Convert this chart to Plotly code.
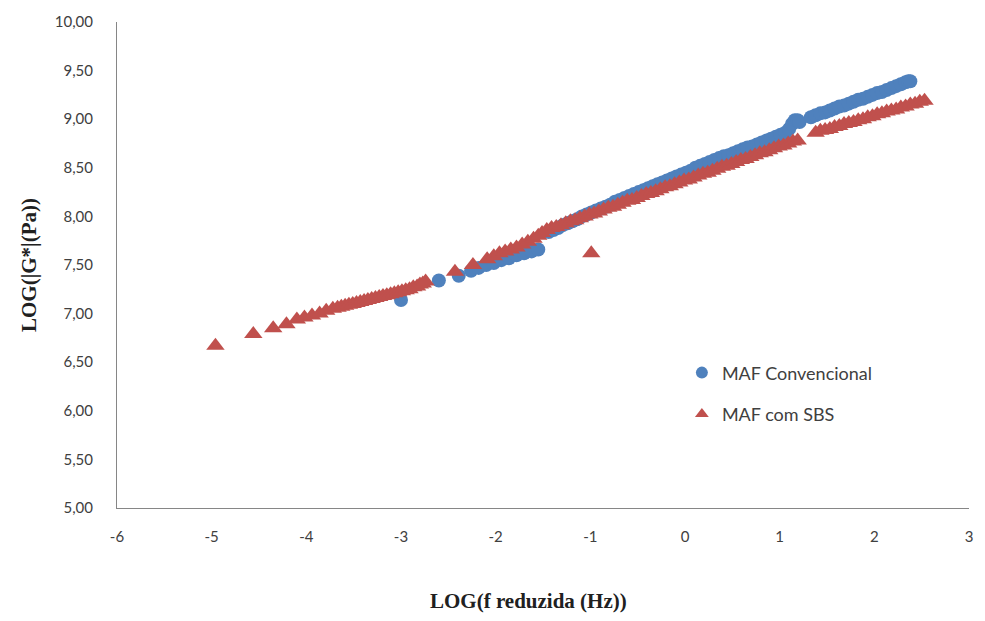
import plotly.graph_objects as go

# MAF Convencional (blue circles)
conv_x = [-3.00, -2.60, -2.39, -2.26, -2.18, -2.10, -2.02, -1.94, -1.86, -1.78, -1.70, -1.62, -1.55,
          -1.44, -1.39, -1.34, -1.29, -1.24, -1.19, -1.14, -1.09, -1.04, -0.99, -0.94, -0.89,
          -0.84, -0.79, -0.74, -0.69, -0.64, -0.59, -0.54, -0.49, -0.44, -0.39, -0.34, -0.29,
          -0.24, -0.19, -0.14, -0.09, -0.04, 0.01, 0.06, 0.11, 0.16, 0.21, 0.26, 0.31, 0.36,
          0.41, 0.46, 0.51, 0.56, 0.61, 0.66, 0.71, 0.76, 0.81, 0.86, 0.91, 0.96, 1.01, 1.06,
          1.10, 1.13, 1.16, 1.19, 1.21,
          1.33, 1.38, 1.43, 1.48, 1.53, 1.58, 1.63, 1.68, 1.73, 1.78, 1.83, 1.88, 1.93, 1.98,
          2.03, 2.08, 2.13, 2.18, 2.23, 2.28, 2.33, 2.36, 2.38]
conv_y = [7.14, 7.34, 7.39, 7.44, 7.47, 7.50, 7.52, 7.55, 7.57, 7.60, 7.62, 7.64, 7.66,
          7.84, 7.86, 7.88, 7.91, 7.93, 7.95, 7.97, 8.00, 8.02, 8.04, 8.06, 8.08,
          8.10, 8.12, 8.15, 8.17, 8.19, 8.21, 8.23, 8.25, 8.27, 8.29, 8.31, 8.33,
          8.35, 8.37, 8.39, 8.41, 8.43, 8.45, 8.47, 8.50, 8.52, 8.54, 8.56, 8.58, 8.60,
          8.62, 8.63, 8.65, 8.67, 8.69, 8.71, 8.72, 8.74, 8.76, 8.78, 8.80, 8.82, 8.84, 8.86,
          8.90, 8.95, 8.99, 8.99, 8.97,
          9.02, 9.04, 9.06, 9.07, 9.09, 9.11, 9.13, 9.14, 9.16, 9.18, 9.20, 9.21, 9.23, 9.25,
          9.27, 9.28, 9.30, 9.32, 9.34, 9.36, 9.38, 9.39, 9.39]

# MAF com SBS (red triangles)
sbs_x = [-4.96, -4.56, -4.35, -4.21, -4.10, -4.02, -3.94, -3.86, -3.79, -3.72, -3.67, -3.63,
         -3.59, -3.55, -3.51, -3.47, -3.43, -3.39, -3.35, -3.31, -3.27, -3.23, -3.19, -3.15,
         -3.11, -3.07, -3.03, -2.99, -2.95, -2.91, -2.87, -2.83, -2.80, -2.77, -2.74,
         -2.43, -2.24, -2.09, -2.02, -1.96, -1.90, -1.84, -1.78, -1.72, -1.66, -1.60, -1.55, -1.51,
         -1.46, -1.41, -1.36, -1.31, -1.26, -1.21, -1.16, -1.11, -1.06, -1.01, -0.96, -0.91,
         -0.86, -0.81, -0.76, -0.71, -0.66, -0.61, -0.56, -0.51, -0.46, -0.41, -0.36, -0.31,
         -0.26, -0.21, -0.16, -0.11, -0.06, -0.01, 0.04, 0.09, 0.14, 0.19, 0.24, 0.29, 0.34,
         0.39, 0.44, 0.49, 0.54, 0.59, 0.64, 0.69, 0.74, 0.79, 0.84, 0.89, 0.94, 0.99, 1.04,
         1.09, 1.14, 1.19,
         -0.99,
         1.38, 1.43, 1.48, 1.53, 1.58, 1.63, 1.68, 1.73, 1.78, 1.83, 1.88, 1.93, 1.98, 2.03,
         2.08, 2.13, 2.18, 2.23, 2.28, 2.33, 2.38, 2.43, 2.48, 2.53]
sbs_y = [6.67, 6.79, 6.85, 6.89, 6.94, 6.96, 6.98, 7.00, 7.03, 7.05, 7.06, 7.07,
         7.08, 7.09, 7.10, 7.11, 7.12, 7.13, 7.14, 7.15, 7.16, 7.17, 7.18, 7.19,
         7.20, 7.21, 7.22, 7.23, 7.24, 7.25, 7.27, 7.28, 7.30, 7.31, 7.33,
         7.43, 7.50, 7.56, 7.59, 7.62, 7.64, 7.66, 7.68, 7.71, 7.74, 7.77, 7.80, 7.83,
         7.86, 7.88, 7.89, 7.91, 7.93, 7.95, 7.96, 7.98, 8.00, 8.02, 8.03, 8.05,
         8.07, 8.09, 8.10, 8.12, 8.14, 8.16, 8.17, 8.19, 8.21, 8.23, 8.24, 8.26,
         8.28, 8.30, 8.31, 8.33, 8.35, 8.37, 8.38, 8.40, 8.42, 8.44, 8.45, 8.47, 8.49,
         8.51, 8.52, 8.54, 8.56, 8.58, 8.59, 8.61, 8.63, 8.65, 8.66, 8.68, 8.70, 8.72, 8.73,
         8.75, 8.77, 8.78,
         7.62,
         8.86, 8.88, 8.89, 8.90, 8.92, 8.93, 8.95, 8.96, 8.97, 8.99, 9.00, 9.02, 9.03, 9.05,
         9.06, 9.08, 9.09, 9.10, 9.12, 9.13, 9.15, 9.16, 9.18, 9.19]

x_ticks = [-6, -5, -4, -3, -2, -1, 0, 1, 2, 3]
y_ticks = [5.0, 5.5, 6.0, 6.5, 7.0, 7.5, 8.0, 8.5, 9.0, 9.5, 10.0]

BLUE = "#4F81BD"
RED = "#C0504D"
AXIS = "#868686"
TXT = "#404040"
SERIF = "Liberation Serif, Times New Roman, serif"

fig = go.Figure()
fig.add_trace(go.Scatter(
    x=conv_x, y=conv_y, mode="markers", name="MAF Convencional",
    legendgroup="a",
    marker=dict(symbol="circle", size=14, color=BLUE, line=dict(width=0)),
))
fig.add_trace(go.Scatter(
    x=sbs_x, y=sbs_y, mode="markers", name="MAF com SBS",
    legendgroup="b",
    marker=dict(symbol="triangle-up", size=16, color=RED, line=dict(width=0)),
))

fig.update_layout(
    width=985, height=621,
    margin=dict(l=117, r=13, t=17, b=113),
    paper_bgcolor="white", plot_bgcolor="white",
    separators=",.",
    font=dict(family="Lato, Open Sans, sans-serif", size=15, color=TXT),
    showlegend=True,
    legend=dict(
        x=0.663, y=0.316, xanchor="left", yanchor="top",
        bgcolor="rgba(0,0,0,0)", tracegroupgap=15,
        font=dict(family="Lato, Open Sans, sans-serif", size=18, color=TXT),
        itemsizing="constant",
    ),
    xaxis=dict(
        range=[-6, 3], tickvals=x_ticks, ticktext=[str(v) for v in x_ticks],
        showgrid=False, zeroline=False, showline=True, linecolor=AXIS, linewidth=1,
        ticks="", ticklabelstandoff=15, tickfont=dict(size=15, color=TXT),
    ),
    yaxis=dict(
        range=[5, 10], tickvals=y_ticks, tickformat=".2f",
        showgrid=False, zeroline=False, showline=True, linecolor=AXIS, linewidth=1,
        ticks="", ticklabelstandoff=20, tickfont=dict(size=15, color=TXT),
        title=dict(text="<b>LOG(|G*|(Pa))</b>", standoff=12,
                   font=dict(family=SERIF, size=21, color="#202020")),
    ),
    annotations=[dict(
        text="<b>LOG(f reduzida (Hz))</b>", xref="paper", yref="paper",
        x=0.483, y=-0.191, xanchor="center", yanchor="middle", showarrow=False,
        font=dict(family=SERIF, size=21, color="#202020"),
    )],
)

fig.write_html("out.html")
